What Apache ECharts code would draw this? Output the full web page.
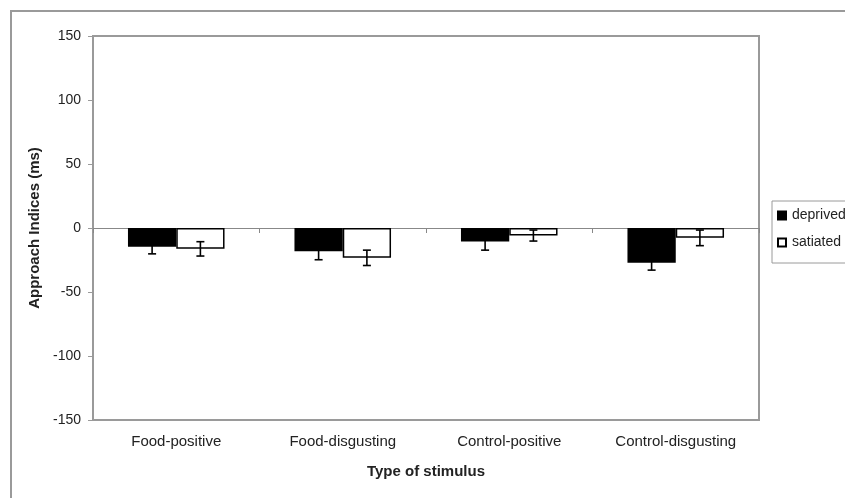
<!DOCTYPE html>
<html>
<head>
<meta charset="utf-8">
<script src="https://cdn.jsdelivr.net/npm/echarts@6/dist/echarts.min.js"></script>
<style>html,body{margin:0;padding:0;background:#fff}#c{width:845px;height:498px}</style>
</head>
<body>
<div id="c"></div>
<script>
var categories = ['Food-positive', 'Food-disgusting', 'Control-positive', 'Control-disgusting'];
var seriesNames = ['deprived', 'satiated'];
var deprived = [-14.7, -18.1, -10.5, -27.2];
var satiated = [-16.3, -23.3, -5.9, -7.7];
var deprivedErr = [5.5, 6.7, 6.8, 5.7];
var satiatedErr = [5.6, 6.0, 4.3, 6.1];
var yTicks = [-150, -100, -50, 0, 50, 100, 150];

var FONT = 'Liberation Sans, Arial, sans-serif';
var CAT_GAP = 0.42;

function errSeries(vals, errs, side) {
  return {
    type: 'custom',
    xAxisIndex: 0,
    yAxisIndex: 0,
    z: 10,
    silent: true,
    data: vals.map(function (v, i) { return [i, v, errs[i]]; }),
    renderItem: function (params, api) {
      var i = api.value(0), v = api.value(1), e = api.value(2);
      var band = api.size([1, 0])[0];
      var off = band * (1 - CAT_GAP) / 4 * side;
      var x = api.coord([i, v])[0] + off;
      var yTop = api.coord([i, v + e])[1];
      var yBot = api.coord([i, v - e])[1];
      var cw = 4;
      var st = { stroke: '#000', lineWidth: 1.6 };
      return {
        type: 'group',
        children: [
          { type: 'line', shape: { x1: x, y1: yTop, x2: x, y2: yBot }, style: st },
          { type: 'line', shape: { x1: x - cw, y1: yTop, x2: x + cw, y2: yTop }, style: st },
          { type: 'line', shape: { x1: x - cw, y1: yBot, x2: x + cw, y2: yBot }, style: st }
        ]
      };
    }
  };
}

var chart = echarts.init(document.getElementById('c'), null, { renderer: 'canvas' });
chart.setOption({
  animation: false,
  backgroundColor: '#fff',
  textStyle: { fontFamily: FONT },
  graphic: [{
    type: 'rect',
    shape: { x: 11, y: 11, width: 900, height: 600 },
    style: { fill: 'none', stroke: '#9a9a9a', lineWidth: 2 },
    silent: true
  }],
  grid: {
    left: 93, right: 86, top: 36, bottom: 78,
    show: true, borderColor: '#9a9a9a', borderWidth: 2, backgroundColor: 'transparent'
  },
  legend: {
    orient: 'vertical',
    left: 772, top: 201,
    padding: [6, 8, 12, 5],
    borderColor: '#9a9a9a', borderWidth: 1,
    itemWidth: 8, itemHeight: 8, itemGap: 10,
    icon: 'rect',
    textStyle: { fontSize: 14, color: '#222', fontFamily: FONT, lineHeight: 17, padding: [0, 0, 0, 1] },
    data: seriesNames
  },
  xAxis: [{
    type: 'category',
    data: categories,
    position: 'bottom',
    axisLine: { onZero: false, show: true, lineStyle: { color: '#9a9a9a', width: 2 } },
    axisTick: { show: false },
    axisLabel: { fontSize: 15, color: '#222', margin: 14, fontFamily: FONT, interval: 0 },
    splitLine: { show: false },
    name: 'Type of stimulus',
    nameLocation: 'middle',
    nameGap: 44,
    nameTextStyle: { fontSize: 15, fontWeight: 'bold', color: '#222', fontFamily: FONT }
  }, {
    type: 'category',
    data: categories,
    position: 'bottom',
    axisLine: { onZero: true, show: true, lineStyle: { color: '#888', width: 1 } },
    axisTick: { show: true, inside: false, length: 5, lineStyle: { color: '#888' } },
    axisLabel: { show: false },
    splitLine: { show: false }
  }],
  yAxis: {
    type: 'value',
    min: yTicks[0], max: yTicks[yTicks.length - 1], interval: 50,
    axisLine: { show: true, lineStyle: { color: '#9a9a9a', width: 2 } },
    axisTick: { show: true, length: 5, lineStyle: { color: '#9a9a9a' } },
    axisLabel: { fontSize: 14, color: '#222', margin: 12, fontFamily: FONT },
    splitLine: { show: false },
    name: 'Approach Indices (ms)',
    nameLocation: 'middle',
    nameRotate: 90,
    nameGap: 42,
    nameTextStyle: { fontSize: 15, fontWeight: 'bold', color: '#222', fontFamily: FONT }
  },
  series: [{
    name: seriesNames[0],
    type: 'bar',
    data: deprived,
    barGap: '0%',
    barCategoryGap: (CAT_GAP * 100) + '%',
    itemStyle: { color: '#000', borderColor: '#000', borderWidth: 1.5 }
  }, {
    name: seriesNames[1],
    type: 'bar',
    data: satiated,
    barGap: '0%',
    barCategoryGap: (CAT_GAP * 100) + '%',
    itemStyle: { color: '#fff', borderColor: '#000', borderWidth: 1.5 }
  },
  errSeries(deprived, deprivedErr, -1),
  errSeries(satiated, satiatedErr, 1)
  ]
});
</script>
</body>
</html>
